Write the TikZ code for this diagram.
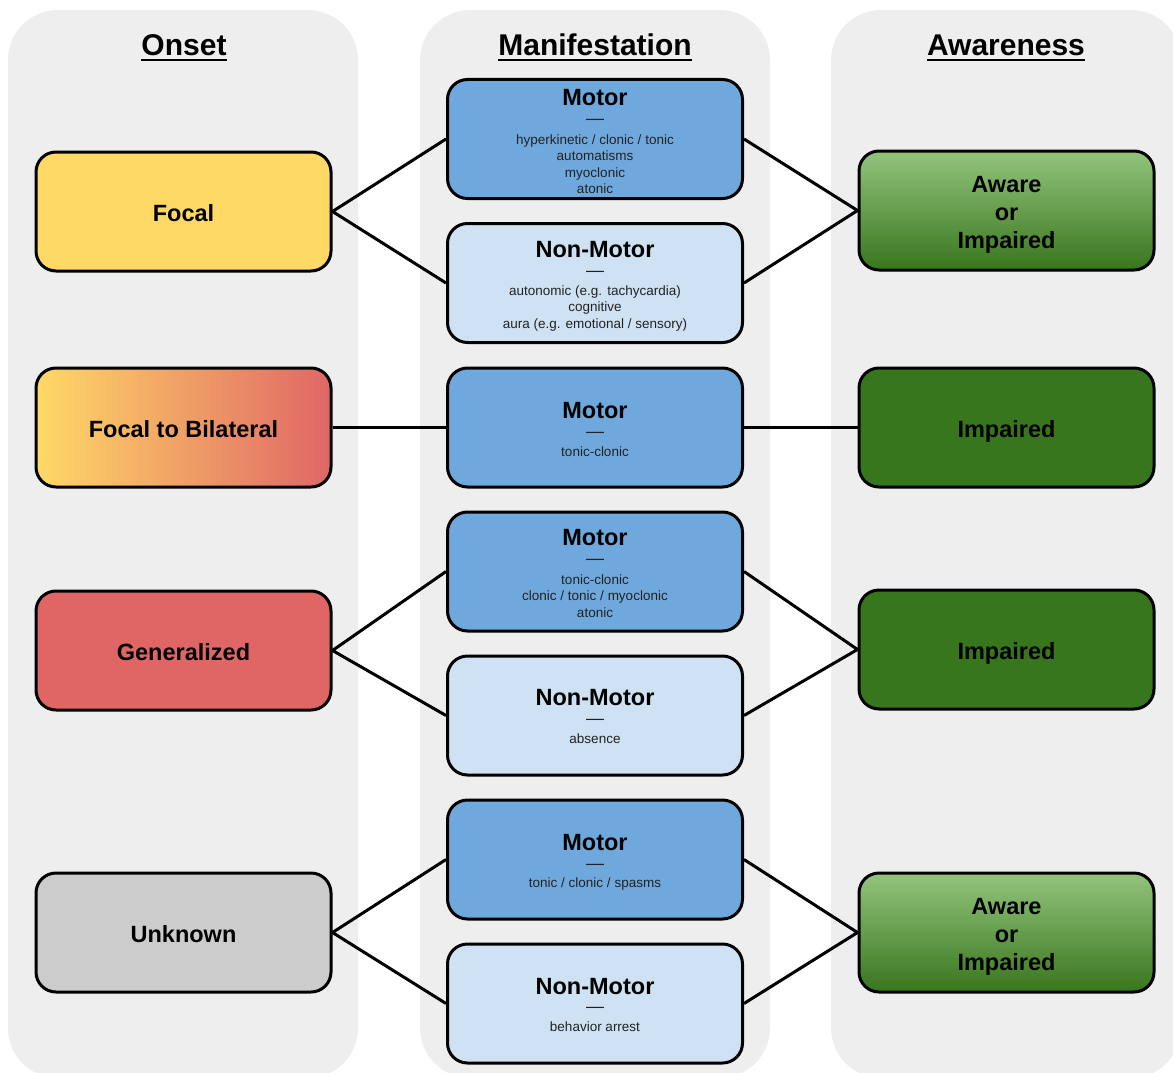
\documentclass[tikz,border=0pt]{standalone}
\usepackage{fontspec}
\setmainfont{Liberation Sans}
\definecolor{panel}{HTML}{EEEEEE}
\definecolor{focal}{HTML}{FFD966}
\definecolor{gen}{HTML}{E06666}
\definecolor{unk}{HTML}{CCCCCC}
\definecolor{motor}{HTML}{6FA8DC}
\definecolor{nonmotor}{HTML}{CFE2F3}
\definecolor{impaired}{HTML}{38761D}
\definecolor{awaretop}{HTML}{93C47D}
\definecolor{subtext}{HTML}{222222}
\begin{document}
\begin{tikzpicture}[x=1pt,y=-1pt,
  panelbox/.style={fill=panel, rounded corners=50pt},
  box/.style={draw=black, line width=3pt, rounded corners=20pt, minimum width=295pt, minimum height=119pt, inner sep=0pt, font=\fontsize{23.5}{28}\selectfont\bfseries, align=center},
  oneline/.style={text height=20.5pt, text depth=0pt},
  threeline/.style={text height=76.5pt, text depth=0pt},
  hdr/.style={font=\fontsize{30}{30}\selectfont\bfseries, anchor=base, inner sep=0pt},
  ttl/.style={font=\fontsize{23.5}{23.5}\selectfont\bfseries, anchor=base, inner sep=0pt},
  dsh/.style={font=\fontsize{18}{18}\selectfont, inner sep=0pt, text=subtext},
  sub/.style={font=\fontsize{13.5}{16.5}\selectfont, anchor=base, inner sep=0pt, text=subtext},
  uline/.style={line width=2.7pt},
  link/.style={line width=3pt}]

\useasboundingbox (0,0) rectangle (1173,1073);

% panels
\fill[panelbox] (8,10) rectangle (358,1078);
\fill[panelbox] (420,10) rectangle (770,1078);
\fill[panelbox] (831,10) rectangle (1181,1078);

% headers
\node[hdr] (h1) at (184,55.5) {Onset};
\node[hdr] (h2) at (595,55.5) {Manifestation};
\node[hdr] (h3) at (1006,55.5) {Awareness};
\foreach \h in {h1,h2,h3}
  \draw[uline] ([yshift=-4.5pt]\h.base west) -- ([yshift=-4.5pt]\h.base east);

% onset boxes
\node[box, oneline, fill=focal] (focal) at (183.5,211.5) {Focal};
\node[box, oneline, left color=focal, right color=gen] (ftb) at (183.5,427.5) {Focal to Bilateral};
\node[box, oneline, fill=gen] (gen) at (183.5,650.5) {Generalized};
\node[box, oneline, fill=unk] (unk) at (183.5,932.5) {Unknown};

% manifestation boxes
\node[box, fill=motor] (m1) at (595,139) {};
\node[box, fill=nonmotor] (n1) at (595,283) {};
\node[box, fill=motor] (m2) at (595,427.5) {};
\node[box, fill=motor] (m3) at (595,571.5) {};
\node[box, fill=nonmotor] (n3) at (595,715.5) {};
\node[box, fill=motor] (m4) at (595,859.5) {};
\node[box, fill=nonmotor] (n4) at (595,1003.5) {};

% awareness boxes
\node[box, threeline, top color=awaretop, bottom color=impaired] (a1) at (1006.5,210.5) {Aware\\or\\Impaired};
\node[box, oneline, fill=impaired] (i2) at (1006.5,427.5) {Impaired};
\node[box, oneline, fill=impaired] (i3) at (1006.5,649.5) {Impaired};
\node[box, threeline, top color=awaretop, bottom color=impaired] (a4) at (1006.5,932.5) {Aware\\or\\Impaired};

% texts in manifestation boxes
\node[ttl] (m1t) at (595,105) {Motor};
\node[dsh] (m1d) at (595,122) {—};
\node[sub] (m1a) at (595,144) {hyperkinetic / clonic / tonic};
\node[sub] (m1b) at (595,160.5) {automatisms};
\node[sub] (m1c) at (595,177) {myoclonic};
\node[sub] (m1e) at (595,193.5) {atonic};

\node[ttl] (n1t) at (595,257) {Non-Motor};
\node[dsh] (n1d) at (595,274) {—};
\node[sub] (n1a) at (595,295) {autonomic (e.g. tachycardia)};
\node[sub] (n1b) at (595,311.5) {cognitive};
\node[sub] (n1c) at (595,328) {aura (e.g. emotional / sensory)};

\node[ttl] (m2t) at (595,418) {Motor};
\node[dsh] (m2d) at (595,435) {—};
\node[sub] (m2a) at (595,456) {tonic-clonic};

\node[ttl] (m3t) at (595,545) {Motor};
\node[dsh] (m3d) at (595,562) {—};
\node[sub] (m3a) at (595,584) {tonic-clonic};
\node[sub] (m3b) at (595,600.5) {clonic / tonic / myoclonic};
\node[sub] (m3c) at (595,617) {atonic};

\node[ttl] (n3t) at (595,705) {Non-Motor};
\node[dsh] (n3d) at (595,722) {—};
\node[sub] (n3a) at (595,743) {absence};

\node[ttl] (m4t) at (595,850) {Motor};
\node[dsh] (m4d) at (595,867) {—};
\node[sub] (m4a) at (595,887) {tonic / clonic / spasms};

\node[ttl] (n4t) at (595,994) {Non-Motor};
\node[dsh] (n4d) at (595,1010) {—};
\node[sub] (n4a) at (595,1031.5) {behavior arrest};

% connectors
\draw[link] (m1.west) -- (focal.east) -- (n1.west);
\draw[link] (m1.east) -- (a1.west) -- (n1.east);
\draw[link] (ftb.east) -- (m2.west);
\draw[link] (m2.east) -- (i2.west);
\draw[link] (m3.west) -- (gen.east) -- (n3.west);
\draw[link] (m3.east) -- (i3.west) -- (n3.east);
\draw[link] (m4.west) -- (unk.east) -- (n4.west);
\draw[link] (m4.east) -- (a4.west) -- (n4.east);
\end{tikzpicture}
\end{document}
